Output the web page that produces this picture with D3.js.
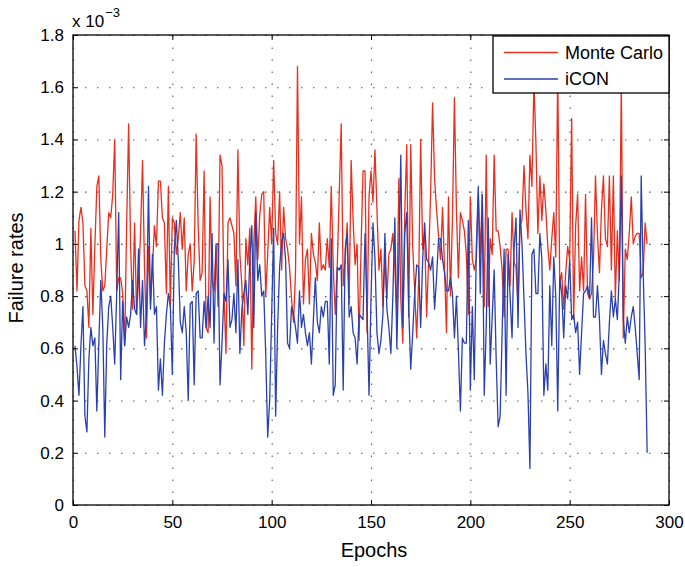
<!DOCTYPE html>
<html>
<head>
<meta charset="utf-8">
<script src="https://cdn.jsdelivr.net/npm/d3@7"></script>
<style>
    body { margin: 0; background: #fff; }
    svg { display: block; font-family: "Liberation Sans", Arial, Helvetica, sans-serif; }
    .grid line { stroke: #555; stroke-width: 1.1; stroke-dasharray: 1.5 10.5; }
    .grid path { display: none; }
    .axis path { display: none; }
    .axis line { stroke: #000; stroke-width: 1; }
    .axis text { font-size: 17px; fill: #000; }
</style>
</head>
<body>
<svg class="failureChart"></svg>
<script>
// failure rates per epoch (x 10^-3), epochs 1..289
let monteCarlo = [
    1.05,0.82,1.09,1.14,1.08,0.84,0.82,0.68,1.06,0.73,
    0.99,1.22,1.26,0.94,0.82,0.84,0.98,1.12,1.10,1.19,
    1.40,0.82,0.87,0.87,0.81,0.61,1.07,1.46,0.99,0.75,
    1.08,0.73,0.86,1.04,1.32,0.91,0.64,0.99,0.77,0.91,
    1.07,0.99,1.24,1.24,1.10,1.08,0.81,1.22,
    0.76,1.10,1.08,0.96,1.02,1.12,0.98,1.10,0.82,0.96,
    1.00,0.82,0.93,1.42,1.07,0.86,0.89,1.28,0.68,0.66,
    1.18,0.86,0.82,0.99,0.76,1.34,1.30,0.81,0.58,1.08,
    1.10,1.07,1.04,0.84,1.36,0.96,0.84,0.61,1.02,0.92,
    1.06,0.52,1.00,1.18,0.94,1.11,1.19,1.20,0.80,0.96,1.14,
    1.00,1.32,1.04,1.00,1.20,0.90,1.14,1.02,0.98,0.91,
    0.79,0.70,0.89,1.68,1.00,1.18,0.77,0.94,0.98,0.77,
    1.04,0.96,0.93,0.86,1.08,0.90,0.92,0.90,1.02,0.91,
    1.22,0.91,0.73,0.91,1.19,1.46,0.84,0.94,1.08,0.77,
    1.32,1.09,0.92,1.00,0.63,0.99,1.28,1.28,0.66,1.18,
    1.28,1.16,1.36,1.13,0.90,0.98,0.76,0.95,0.79,0.96,
    0.98,1.04,0.91,0.72,1.25,0.79,0.62,1.12,1.38,0.72,
    1.38,0.99,0.82,0.64,0.86,1.40,0.98,1.04,0.72,0.94,
    1.19,1.54,1.25,1.13,1.03,0.94,1.14,0.91,0.66,1.18,
    0.80,1.10,1.56,1.13,0.87,1.12,1.09,1.05,0.96,0.73,1.18,
    0.94,0.90,0.94,1.19,0.96,1.19,0.76,1.34,0.76,1.02,
    0.96,1.34,1.05,1.05,0.99,0.90,0.72,0.98,0.98,0.84,
    1.12,0.93,0.91,0.76,1.07,1.09,1.30,1.13,1.02,1.34,
    1.22,1.62,1.39,1.04,1.26,1.09,1.23,1.13,0.99,0.90,
    1.02,1.12,0.95,1.66,0.85,0.89,0.75,0.89,0.99,0.94,
    1.48,0.71,1.07,1.19,0.82,0.95,0.82,1.19,0.81,0.79,
    0.81,0.94,1.26,1.03,0.89,1.13,1.26,1.02,0.99,1.26,
    0.90,1.26,0.79,1.05,0.86,1.62,0.64,0.98,0.94,1.04,
    1.18,1.00,1.03,1.04,1.04,0.87,0.89,1.08,1.00
];

let icon = [
    0.61,0.53,0.42,0.61,0.76,0.34,0.28,0.56,0.68,0.61,
    0.64,0.36,0.62,0.86,0.68,0.26,0.62,0.76,0.80,0.68,
    0.54,0.81,1.12,0.48,0.78,0.61,0.72,0.68,0.73,0.86,
    0.75,0.73,0.98,0.68,0.86,0.61,0.73,1.22,0.75,0.96,
    0.73,0.76,0.44,0.56,0.42,0.62,0.73,0.81,
    0.76,0.50,0.98,1.09,0.94,0.70,0.66,0.76,0.66,0.40,
    0.77,0.78,0.46,0.81,0.82,0.64,0.64,0.78,0.68,0.80,
    0.68,1.04,0.62,1.00,1.00,0.46,0.62,0.81,0.78,0.94,
    0.68,0.71,0.81,0.66,0.94,0.58,0.75,0.81,0.86,0.73,
    0.94,1.07,0.68,1.12,0.86,0.92,0.80,0.82,0.58,0.26,0.40,
    0.73,1.06,0.34,0.68,0.91,1.01,1.04,0.94,0.62,0.60,
    0.76,0.73,0.68,0.62,0.82,0.68,0.73,0.66,0.61,0.66,
    0.54,0.71,0.87,0.70,0.66,0.76,0.72,0.78,0.78,0.54,
    1.02,0.42,0.46,0.91,0.90,0.92,0.44,0.98,1.04,0.72,
    0.76,0.66,0.64,0.54,0.73,0.72,0.71,1.04,0.75,0.42,
    0.79,1.08,0.94,0.66,0.58,0.63,0.73,1.04,0.75,0.68,
    0.58,0.80,1.10,0.60,0.94,1.34,0.68,1.04,1.12,0.75,
    0.52,0.66,0.81,0.92,0.91,0.68,0.94,1.08,0.94,0.93,
    0.90,0.95,0.75,0.87,1.02,1.02,0.94,0.89,0.82,0.82,
    0.87,0.81,0.64,0.80,0.59,0.36,0.64,0.62,0.62,1.09,0.44,
    0.76,0.48,0.98,1.22,0.81,1.19,0.42,0.68,1.10,0.54,
    0.72,0.90,0.56,0.30,0.34,0.66,0.98,0.42,0.96,0.80,
    0.64,0.98,1.10,0.68,1.13,1.00,0.79,0.58,0.43,0.14,
    0.96,0.98,0.81,0.81,1.04,0.94,0.42,0.54,0.44,0.84,
    0.61,0.95,0.80,0.36,0.87,0.81,0.64,0.84,0.79,0.94,
    0.71,0.73,0.66,0.70,0.50,0.66,0.81,0.82,0.84,0.79,
    1.10,0.72,0.72,0.84,0.71,0.50,0.63,0.58,0.54,0.70,
    0.82,0.72,0.79,0.71,0.89,1.26,0.71,0.62,0.72,0.66,
    0.72,0.76,0.68,0.58,0.48,1.26,0.89,0.61,0.20
];

let xTicks = [0, 50, 100, 150, 200, 250, 300];
let yTicks = [0, 0.2, 0.4, 0.6, 0.8, 1, 1.2, 1.4, 1.6, 1.8];
let seriesNames = ["Monte Carlo", "iCON"];
let seriesColors = ["#e5301f", "#2a40ad"];

let margin = {top: 35, right: 16, bottom: 62, left: 73};
let width = 685 - margin.left - margin.right;
let height = 567 - margin.top - margin.bottom;

// set the ranges
let x = d3.scaleLinear().domain([0, 300]).range([0, width]);
let y = d3.scaleLinear().domain([0, 1.8]).range([height, 0]);

let svg = d3.select(".failureChart")
    .attr("width", width + margin.left + margin.right)
    .attr("height", height + margin.top + margin.bottom);

let g = svg.append("g")
    .attr("transform", "translate(" + margin.left + "," + margin.top + ")");

// dotted grid
g.append("g")
    .attr("class", "grid")
    .attr("transform", `translate(0, ${height})`)
    .call(d3.axisBottom(x).tickValues(xTicks).tickSize(-height).tickFormat(""));

g.append("g")
    .attr("class", "grid")
    .call(d3.axisLeft(y).tickValues(yTicks).tickSize(-width).tickFormat(""));

// define the lines
let valueline = d3.line()
    .x(function(d, i) { return x(i + 1); })
    .y(function(d) { return y(d); });

[monteCarlo, icon].forEach(function(data, i) {
    g.append("path")
        .datum(data)
        .attr("fill", "none")
        .attr("stroke", seriesColors[i])
        .attr("stroke-width", 1.3)
        .attr("stroke-linejoin", "round")
        .attr("d", valueline);
});

// axes with inward ticks on all four sides
g.append("g")
    .attr("class", "axis")
    .attr("transform", `translate(0, ${height})`)
    .call(d3.axisBottom(x).tickValues(xTicks).tickSize(-5).tickPadding(11).tickFormat(d3.format("d")));

g.append("g")
    .attr("class", "axis")
    .call(d3.axisTop(x).tickValues(xTicks).tickSize(-5).tickFormat(""));

g.append("g")
    .attr("class", "axis")
    .call(d3.axisLeft(y).tickValues(yTicks).tickSize(-5).tickPadding(9).tickFormat(d3.format("~g")));

g.append("g")
    .attr("class", "axis")
    .attr("transform", `translate(${width}, 0)`)
    .call(d3.axisRight(y).tickValues(yTicks).tickSize(-5).tickFormat(""));

// frame
g.append("rect")
    .attr("width", width)
    .attr("height", height)
    .attr("fill", "none")
    .attr("stroke", "#000")
    .attr("stroke-width", 1.3);

// exponent label
let expo = svg.append("text")
    .attr("x", 72)
    .attr("y", 27)
    .attr("font-size", 17);
expo.append("tspan").text("x 10");
expo.append("tspan")
    .attr("font-size", 13)
    .attr("dy", -10)
    .attr("dx", 1)
    .text("\u22123");

// axis titles
svg.append("text")
    .attr("x", margin.left + width / 2 + 3)
    .attr("y", 557)
    .attr("text-anchor", "middle")
    .attr("font-size", 20)
    .text("Epochs");

svg.append("text")
    .attr("transform", "translate(23, 268) rotate(-90)")
    .attr("text-anchor", "middle")
    .attr("font-size", 20)
    .text("Failure rates");

// legend
let legend = svg.append("g").attr("transform", "translate(493, 36)");

legend.append("rect")
    .attr("width", 176)
    .attr("height", 57)
    .attr("fill", "#fff")
    .attr("stroke", "#000")
    .attr("stroke-width", 1.3);

seriesNames.forEach(function(name, i) {
    legend.append("line")
        .attr("x1", 11).attr("x2", 65)
        .attr("y1", 16.5 + i * 26.5).attr("y2", 16.5 + i * 26.5)
        .attr("stroke", seriesColors[i])
        .attr("stroke-width", 1.3);
    legend.append("text")
        .attr("x", 72)
        .attr("y", 22.5 + i * 26.5)
        .attr("font-size", 18)
        .text(name);
});
</script>
</body>
</html>
